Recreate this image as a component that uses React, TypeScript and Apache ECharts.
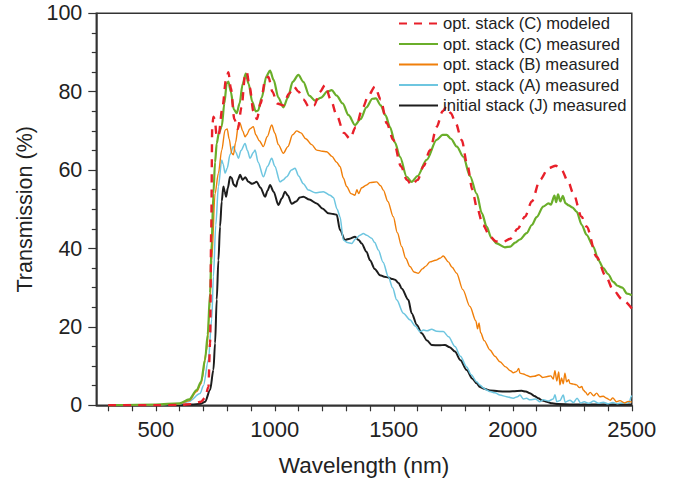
import React, { useEffect, useRef } from "react";
import * as echarts from "echarts";

// Wavelength (nm) / transmission (%)
const modeledX = [300, 500, 600, 650, 690, 707, 721, 728, 733, 737, 742, 748, 755, 763, 780, 795, 805, 815, 830, 845, 860, 875, 882, 895, 910, 925, 940, 960, 973, 990, 1010, 1035, 1060, 1080, 1100, 1120, 1145, 1165, 1190, 1211, 1235, 1260, 1290, 1316, 1340, 1370, 1393, 1421, 1445, 1470, 1498, 1530, 1555, 1575, 1600, 1625, 1652, 1680, 1705, 1722, 1740, 1760, 1785, 1810, 1830, 1848, 1875, 1904, 1930, 1960, 1990, 2020, 2051, 2080, 2114, 2150, 2181, 2205, 2233, 2254, 2289, 2310, 2352, 2390, 2422, 2460, 2500];
const modeledY = [0, 0, 0.1, 0.3, 0.9, 1.9, 4.7, 15.9, 45, 71, 73.6, 73, 69, 68.5, 76, 83, 85, 81, 73, 70.5, 76, 84, 85, 81, 75, 73, 77, 83, 83.8, 80, 77, 76.5, 79.5, 81.3, 80, 78, 76, 76.5, 80, 81.7, 78, 74, 69.5, 68, 71, 76, 79, 81.3, 78, 72, 67.7, 61, 57.5, 56.2, 57.5, 61, 65.1, 71, 75, 76.2, 74.5, 72, 67.7, 61, 55, 50.7, 46, 43, 41.8, 41.7, 42.5, 45, 48.1, 52, 57.5, 60.5, 61.1, 60, 57, 54.1, 48.1, 45.6, 37.9, 33, 29.4, 27, 24.7];

const stackCX = [300, 500, 600, 640, 672, 690, 707, 718, 728, 735, 742, 749, 756, 765, 777, 788, 798, 805, 815, 828, 840, 852, 865, 878, 890, 905, 920, 930, 945, 965, 980, 995, 1015, 1036, 1055, 1075, 1099, 1120, 1145, 1169, 1195, 1220, 1239, 1260, 1285, 1310, 1337, 1360, 1385, 1410, 1425, 1445, 1465, 1484, 1505, 1526, 1554, 1575, 1600, 1638, 1680, 1705, 1722, 1740, 1765, 1792, 1820, 1848, 1870, 1890, 1910, 1932, 1967, 1990, 2010, 2030, 2058, 2080, 2100, 2128, 2150, 2160, 2175, 2182, 2190, 2200, 2210, 2222, 2235, 2250, 2268, 2290, 2310, 2338, 2360, 2380, 2400, 2422, 2440, 2460, 2480, 2500];
const stackCY = [0, 0.2, 0.5, 1.5, 3.9, 6, 11.6, 18, 28.6, 42, 54.1, 62, 66.8, 69.5, 71.1, 77, 82.1, 82.6, 80, 75.5, 74.5, 77, 82, 84.6, 82, 77.5, 75, 75.2, 78.5, 84, 85.4, 83, 78.5, 76, 78.5, 82.5, 84.3, 82.5, 79, 77.7, 78.5, 80, 80.4, 79, 77, 74, 71.5, 73, 76, 78.2, 78.3, 76.5, 74, 71, 67, 63.4, 58.3, 57, 58.5, 62.6, 67.7, 69, 69, 68, 66, 63.4, 58.5, 54, 49, 45.6, 42.7, 41.3, 40.3, 40.5, 41.5, 42.3, 43.9, 46, 48, 50.7, 51.5, 51.2, 53.5, 51.8, 53.8, 52, 53.4, 51.5, 51, 50.5, 49.4, 46, 43.5, 40.5, 37, 35, 33.5, 31.5, 30.5, 30, 28.5, 28.1];

const stackBX = [300, 500, 600, 640, 672, 690, 714, 728, 735, 749, 763, 777, 791, 800, 808, 819, 826, 835, 847, 854, 865, 875, 882, 895, 910, 920, 935, 952, 968, 987, 1000, 1015, 1036, 1055, 1075, 1092, 1110, 1130, 1155, 1176, 1200, 1218, 1240, 1260, 1274, 1288, 1302, 1320, 1337, 1345, 1352, 1365, 1386, 1400, 1428, 1445, 1456, 1475, 1498, 1515, 1533, 1550, 1568, 1585, 1603, 1620, 1635, 1652, 1675, 1694, 1708, 1729, 1745, 1764, 1790, 1820, 1845, 1852, 1858, 1865, 1880, 1904, 1925, 1946, 1970, 1990, 2002, 2015, 2025, 2030, 2045, 2060, 2072, 2090, 2110, 2125, 2142, 2160, 2170, 2177, 2185, 2193, 2198, 2205, 2212, 2219, 2226, 2235, 2240, 2255, 2268, 2280, 2290, 2296, 2305, 2315, 2325, 2340, 2352, 2365, 2380, 2394, 2410, 2420, 2436, 2450, 2470, 2485, 2500];
const stackBY = [0, 0.1, 0.4, 1.2, 3.5, 5.5, 14.1, 26, 37, 54, 59.2, 65.1, 70.2, 70.5, 68, 64.3, 63.9, 67, 71.5, 71.9, 70, 68.5, 69, 70.5, 71.1, 69, 67.5, 66, 68.5, 71.5, 69.5, 66.5, 64.3, 66, 69, 70, 69.5, 68, 66.5, 65.1, 64.8, 64.7, 63.5, 62, 60.9, 58, 55.8, 54, 53.6, 55, 54, 55.5, 56.2, 56.8, 57, 56, 54.9, 52, 48.1, 44, 40.5, 37.5, 35.4, 34, 33.7, 34.8, 35.5, 36.6, 37, 37.5, 38.1, 36.6, 35.2, 33.7, 29.5, 25.2, 21.5, 19.5, 21, 18.5, 16.5, 14.1, 12.5, 11.1, 9.8, 8.8, 8.3, 8.6, 9.4, 8.2, 8, 7.6, 7.3, 7.4, 7.8, 7.1, 7.3, 7.5, 6.7, 8.8, 6.2, 8.5, 5.2, 7, 5.5, 8.2, 6, 6.5, 5.6, 5.4, 5.2, 4.5, 4.8, 3.9, 3.4, 2.6, 3.3, 2.4, 3.1, 2.2, 2.3, 1.8, 1.3, 1.9, 0.9, 1.2, 0.6, 1, 0.8];

const stackAX = [300, 500, 600, 640, 686, 700, 721, 735, 742, 752, 763, 777, 783, 791, 800, 812, 826, 837, 847, 858, 875, 885, 896, 910, 917, 930, 952, 970, 987, 1000, 1022, 1035, 1050, 1070, 1085, 1100, 1120, 1141, 1170, 1204, 1232, 1246, 1262, 1274, 1288, 1305, 1323, 1340, 1358, 1372, 1386, 1407, 1420, 1435, 1455, 1477, 1495, 1512, 1540, 1568, 1590, 1610, 1625, 1640, 1659, 1680, 1708, 1730, 1757, 1780, 1806, 1825, 1848, 1862, 1875, 1890, 1904, 1925, 1946, 1974, 2002, 2020, 2030, 2045, 2058, 2072, 2095, 2114, 2128, 2150, 2170, 2177, 2185, 2198, 2212, 2220, 2240, 2255, 2270, 2285, 2300, 2320, 2340, 2360, 2380, 2400, 2420, 2440, 2460, 2480, 2490, 2497, 2500];
const stackAY = [0, 0.1, 0.3, 1.0, 3.0, 5, 11.6, 22, 32.8, 46, 55.8, 62.6, 61.5, 59.2, 60.5, 64, 66, 64.5, 63, 65, 66.8, 65, 63, 64.5, 65.1, 62, 58.3, 61, 63, 61, 57, 57.5, 58.3, 60, 60.5, 58.5, 56.5, 54.9, 54.2, 54.5, 53.6, 53, 50, 48.1, 42.2, 41.5, 41.3, 42.5, 43.4, 43.8, 43.4, 42.6, 41.5, 39.6, 36.5, 32.8, 30, 26.9, 23.5, 21.8, 20.2, 18.8, 19.2, 19, 19.4, 18.9, 18.8, 17.5, 15, 12.5, 9.8, 7.8, 6, 5.2, 4.5, 3.9, 3.5, 3.2, 2.6, 2.2, 1.8, 2.2, 2.6, 1.6, 1.8, 1.4, 1.6, 0.9, 1.4, 1.1, 1.6, 2.7, 0.9, 1.2, 2.6, 0.8, 1.3, 0.7, 1.8, 0.6, 0.9, 0.5, 1.1, 0.5, 0.8, 0.4, 0.7, 0.4, 0.6, 0.5, 0.8, 2.2, 2.5];

const initialJX = [300, 500, 600, 650, 690, 707, 728, 742, 749, 756, 763, 770, 777, 784, 790, 795, 803, 812, 819, 827, 837, 845, 854, 865, 876, 889, 905, 924, 940, 959, 970, 980, 995, 1015, 1030, 1043, 1055, 1071, 1090, 1105, 1120, 1145, 1176, 1200, 1225, 1245, 1260, 1274, 1295, 1315, 1337, 1352, 1365, 1385, 1400, 1420, 1442, 1460, 1477, 1495, 1505, 1520, 1533, 1561, 1575, 1597, 1617, 1640, 1659, 1690, 1715, 1735, 1757, 1780, 1806, 1830, 1848, 1862, 1880, 1904, 1940, 1974, 2000, 2037, 2055, 2072, 2090, 2107, 2125, 2142, 2165, 2190, 2250, 2500];
const initialJY = [0, 0, 0.1, 0.2, 0.4, 0.9, 3.9, 9, 15.8, 27, 37, 45.6, 52, 55.8, 54.5, 53.2, 55.5, 58.3, 58, 56.3, 55.8, 57.5, 58.8, 57.5, 58.2, 57, 56.5, 57, 55.5, 53.2, 54.8, 56.2, 54.5, 51.1, 52.8, 54.5, 53.5, 51.4, 52, 53, 53.2, 52.5, 51.5, 50.2, 49, 48.8, 48.6, 44.7, 42.2, 42.5, 43, 42.2, 41.3, 39.2, 37, 34.8, 33.2, 32.8, 32.6, 32.2, 32, 31.2, 29.8, 26.9, 23.5, 20.5, 18.4, 16.5, 15.4, 15.3, 15.4, 14.8, 13.7, 11.5, 9, 6.8, 5.6, 4.7, 4.2, 3.8, 3.6, 3.5, 3.6, 3.7, 3.5, 3.1, 2.4, 1.8, 1.2, 0.9, 0.5, 0.3, 0.2, 0.2];

const seriesNames = [
  "opt. stack (C) modeled",
  "opt. stack (C) measured",
  "opt. stack (B) measured",
  "opt. stack (A) measured",
  "initial stack (J) measured",
];
const xLabelValues = [500, 1000, 1500, 2000, 2500];
const xTickValues = [300, 400, 500, 600, 700, 800, 900, 1000, 1100, 1200, 1300, 1400, 1500, 1600, 1700, 1800, 1900, 2000, 2100, 2200, 2300, 2400, 2500];

const zip = (xs: number[], ys: number[]) => xs.map((x, i) => [x, ys[i]]);

const FONT = "'Liberation Sans', Arial, Helvetica, sans-serif";

export default function App() {
  const ref = useRef<HTMLDivElement>(null);
  useEffect(() => {
    if (!ref.current) return;
    const chart = echarts.init(ref.current, undefined, { renderer: "svg" });
    const axisColor = "#333";
    const lineSeries = (name: string, data: number[][], color: string, width: number, dashed = false) => ({
      name,
      type: "line",
      data,
      showSymbol: false,
      symbol: "none",
      smooth: 0.3,
      smoothMonotone: "x",
      lineStyle: { color, width, type: dashed ? [8, 7] : "solid" },
      itemStyle: { color },
      emphasis: { disabled: true },
    });
    chart.setOption({
      animation: false,
      textStyle: { fontFamily: FONT },
      grid: {
        left: 96.3,
        right: 49.2,
        top: 13.3,
        bottom: 80.7,
        show: true,
        borderColor: axisColor,
        borderWidth: 1.5,
        containLabel: false,
      },
      legend: {
        orient: "vertical",
        left: 398,
        top: 15,
        padding: 0,
        itemWidth: 39,
        itemHeight: 14,
        itemGap: 3.5,
        data: seriesNames,
        itemStyle: { opacity: 0 },
        textStyle: { fontSize: 16.6, color: "#222", fontFamily: FONT, lineHeight: 17 },
      },
      xAxis: {
        type: "value",
        min: 250,
        max: 2500,
        name: "Wavelength (nm)",
        nameLocation: "middle",
        nameGap: 49,
        nameTextStyle: { fontSize: 22.5, color: "#222", fontFamily: FONT },
        axisLine: { show: true, onZero: false, lineStyle: { color: axisColor, width: 1.5 } },
        axisTick: { show: true, length: 6, customValues: xTickValues, lineStyle: { color: axisColor, width: 1.2 } },
        axisLabel: {
          customValues: xLabelValues,
          fontSize: 22,
          color: "#222",
          margin: 13,
          fontFamily: FONT,
          formatter: (v: number) => String(v),
        },
        splitLine: { show: false },
      },
      yAxis: {
        type: "value",
        min: 0,
        max: 100,
        interval: 20,
        name: "Transmission (%)",
        nameLocation: "middle",
        nameGap: 60,
        nameTextStyle: { fontSize: 21.5, color: "#222", fontFamily: FONT },
        axisLine: { show: true, lineStyle: { color: axisColor, width: 1.5 } },
        axisTick: { show: true, length: 8, lineStyle: { color: axisColor, width: 1.2 } },
        minorTick: { show: true, splitNumber: 4, length: 4.5, lineStyle: { color: axisColor, width: 1.2 } },
        axisLabel: { fontSize: 21.5, color: "#222", margin: 14, fontFamily: FONT },
        splitLine: { show: false },
      },
      series: [
        lineSeries(seriesNames[4], zip(initialJX, initialJY), "#1d1d1d", 2),
        lineSeries(seriesNames[3], zip(stackAX, stackAY), "#6ec6e0", 1.5),
        lineSeries(seriesNames[2], zip(stackBX, stackBY), "#f07f0a", 1.4),
        lineSeries(seriesNames[1], zip(stackCX, stackCY), "#6aae2a", 2.2),
        lineSeries(seriesNames[0], zip(modeledX, modeledY), "#e8202a", 2.4, true),
      ],
    });
    return () => chart.dispose();
  }, []);
  return (
    <div
      ref={ref}
      style={{ position: "fixed", left: 0, top: 0, width: 681, height: 486, background: "#fff" }}
    />
  );
}
